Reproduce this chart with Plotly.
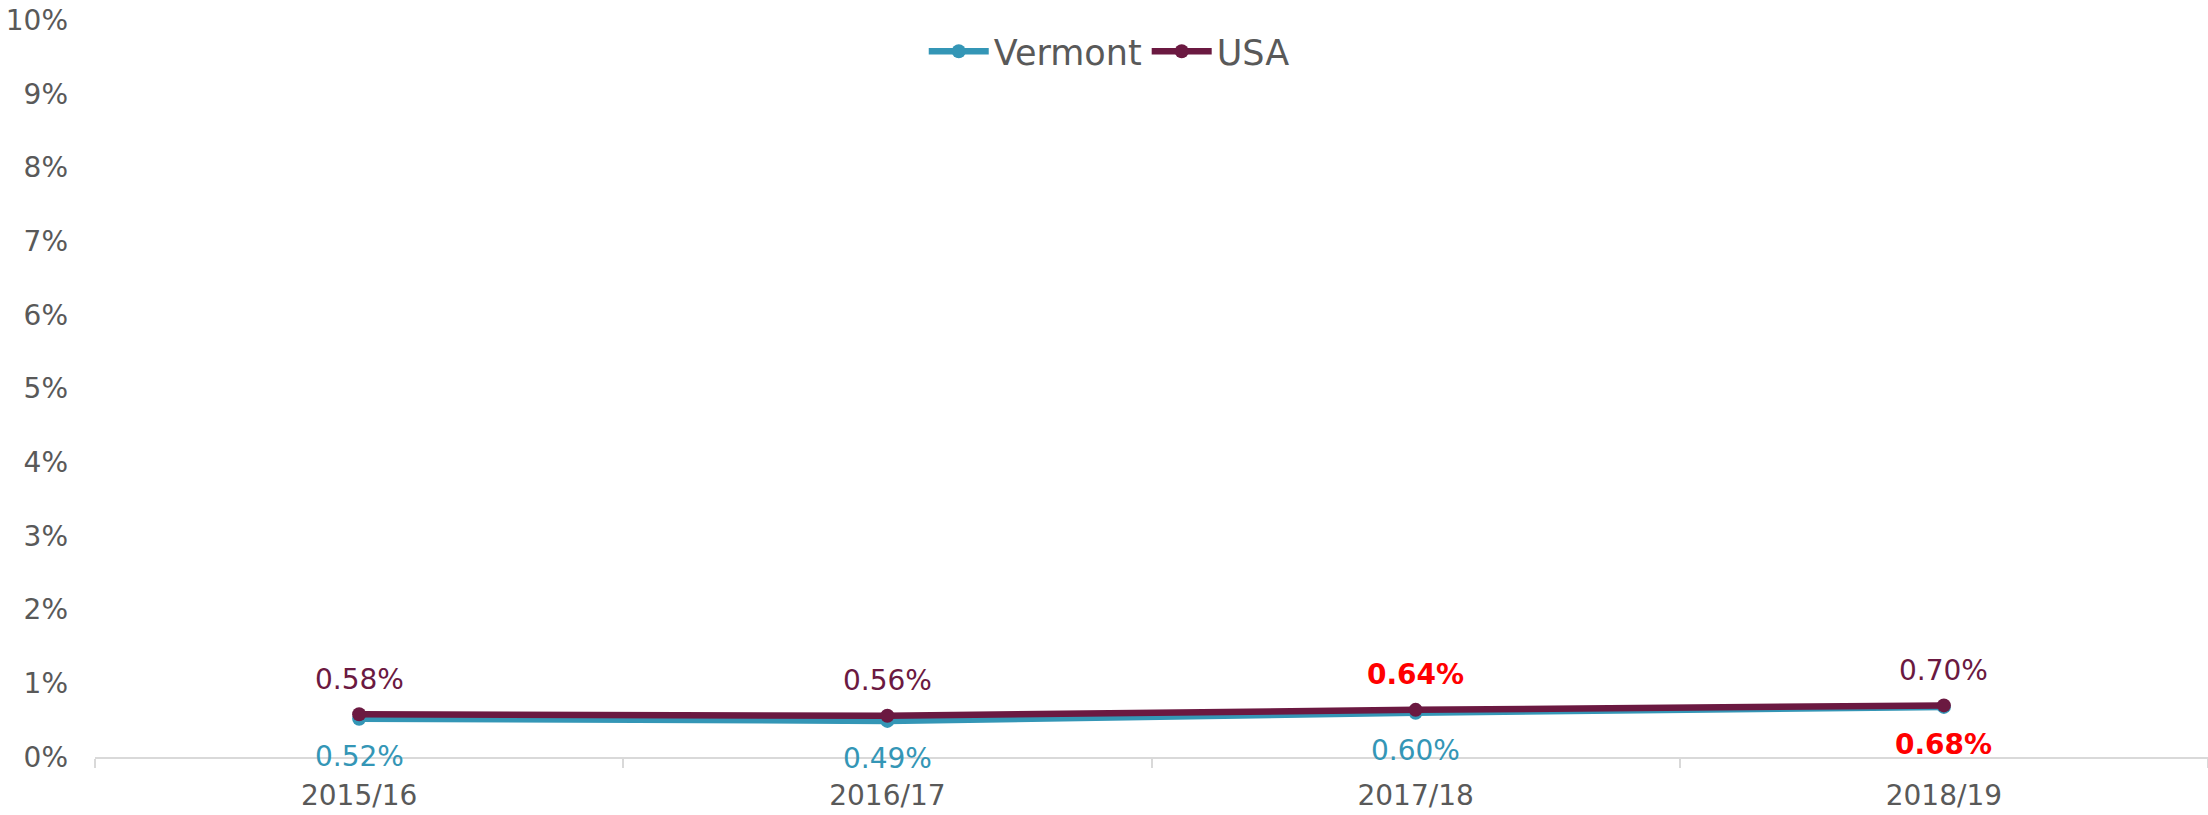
import plotly.graph_objects as go

years = ["2015/16", "2016/17", "2017/18", "2018/19"]
vermont = [0.0052, 0.0049, 0.0060, 0.0068]
usa = [0.0058, 0.0056, 0.0064, 0.0070]
# points whose labels are emphasised in red bold
vermont_highlight = [False, False, False, True]
usa_highlight = [False, False, True, False]

VT_COLOR = "#3496B6"
USA_COLOR = "#6B1941"
HIGHLIGHT = "#FF0000"
TEXT = "#595959"
FONT = "DejaVu Sans"

fig = go.Figure()
fig.add_trace(go.Scatter(
    x=years, y=vermont, name="Vermont", mode="lines+markers",
    line=dict(color=VT_COLOR, width=6.5), marker=dict(size=14, color=VT_COLOR),
))
fig.add_trace(go.Scatter(
    x=years, y=usa, name="USA", mode="lines+markers",
    line=dict(color=USA_COLOR, width=6.5), marker=dict(size=14, color=USA_COLOR),
))


def label(x, y, color, hl, shift):
    txt = f"{y * 100:.2f}%"
    if hl:
        txt = f"<b>{txt}</b>"
    fig.add_annotation(
        x=x, y=y, text=txt, showarrow=False, yshift=shift,
        font=dict(family=FONT, size=28, color=HIGHLIGHT if hl else color),
    )


for x, y, hl in zip(years, usa, usa_highlight):
    label(x, y, USA_COLOR, hl, 35)
for x, y, hl in zip(years, vermont, vermont_highlight):
    label(x, y, VT_COLOR, hl, -38)

fig.update_layout(
    width=2208, height=815,
    margin=dict(l=95, r=0, t=20, b=58, autoexpand=False),
    paper_bgcolor="white", plot_bgcolor="white",
    font=dict(family=FONT, size=28, color=TEXT),
    showlegend=True,
    legend=dict(
        orientation="h", xref="paper", yref="paper",
        x=0.48, xanchor="center", y=1 - 2 / 737, yanchor="top",
        font=dict(family=FONT, size=35, color=TEXT),
        itemwidth=60, tracegroupgap=0, bgcolor="rgba(0,0,0,0)",
    ),
    xaxis=dict(
        type="category", range=[-0.5, 3.5], automargin=False,
        showline=True, linecolor="#D9D9D9", linewidth=2,
        ticks="outside", tickson="boundaries", ticklen=9, tickcolor="#D9D9D9",
        tickwidth=2, showgrid=False, zeroline=False,
        ticklabelstandoff=12,
        tickfont=dict(family=FONT, size=28, color=TEXT),
    ),
    yaxis=dict(
        range=[0, 0.10], dtick=0.01, tickformat=".0%", automargin=False,
        showgrid=False, zeroline=False, showline=False,
        ticklabelstandoff=26,
        tickfont=dict(family=FONT, size=28, color=TEXT),
    ),
)

fig.write_html("out.html")
